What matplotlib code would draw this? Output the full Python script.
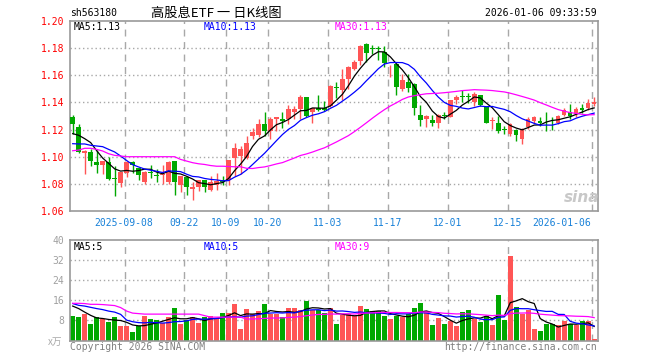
import numpy as np
import pandas as pd
import matplotlib
matplotlib.use('Agg')
import matplotlib.pyplot as plt

# sh563180 daily K
opens = [1.129, 1.122, 1.1027, 1.1035, 1.096, 1.0938, 1.096, 1.0843, 1.0807, 1.0881,
         1.096, 1.0918, 1.0812, 1.089, 1.0864, 1.0864, 1.0812, 1.0968, 1.0795, 1.0852,
         1.0763, 1.0775, 1.0825, 1.0758, 1.0795, 1.0827, 1.0827, 1.0988, 1.1005, 1.0988,
         1.1153, 1.1158, 1.124, 1.119, 1.1277, 1.1277, 1.1277, 1.1331, 1.1351, 1.1437,
         1.1326, 1.1356, 1.1356, 1.1375, 1.1513, 1.1494, 1.1575, 1.1649, 1.1706, 1.1827,
         1.1799, 1.1799, 1.1773, 1.1628, 1.1686, 1.1501, 1.155, 1.1538, 1.1311, 1.1279,
         1.1271, 1.1247, 1.1306, 1.1296, 1.142, 1.1447, 1.1447, 1.14, 1.1454, 1.1363,
         1.1262, 1.1252, 1.1205, 1.1165, 1.1198, 1.1133, 1.1222, 1.1264, 1.1264, 1.1266,
         1.1266, 1.1252, 1.1311, 1.1326, 1.1314, 1.1356, 1.1356, 1.1388]
highs = [1.131, 1.124, 1.105, 1.1054, 1.105, 1.097, 1.100, 1.0931, 1.089, 1.0965,
         1.0968, 1.092, 1.0893, 1.0936, 1.0906, 1.0936, 1.0968, 1.097, 1.0858, 1.0855,
         1.0812, 1.0827, 1.083, 1.0857, 1.0877, 1.0857, 1.0975, 1.1104, 1.1079, 1.1153,
         1.1212, 1.1277, 1.1331, 1.1289, 1.129, 1.1326, 1.138, 1.1375, 1.1455, 1.144,
         1.1358, 1.1455, 1.1413, 1.1526, 1.1553, 1.165, 1.1667, 1.1716, 1.1822, 1.184,
         1.1822, 1.1815, 1.1815, 1.1674, 1.1689, 1.1612, 1.1612, 1.154, 1.1378, 1.1311,
         1.1304, 1.1316, 1.1328, 1.1418, 1.1457, 1.1489, 1.1472, 1.1474, 1.1457, 1.1366,
         1.1289, 1.1301, 1.1227, 1.1252, 1.1203, 1.1215, 1.1289, 1.1301, 1.1289, 1.1326,
         1.1289, 1.1306, 1.1356, 1.1388, 1.1363, 1.1388, 1.1425, 1.1437]
lows = [1.117, 1.103, 1.0874, 1.0931, 1.0881, 1.0876, 1.0827, 1.0713, 1.0775, 1.0849,
        1.0881, 1.0832, 1.0802, 1.0844, 1.0812, 1.0802, 1.0802, 1.0721, 1.0738, 1.0721,
        1.0684, 1.0746, 1.0738, 1.075, 1.0758, 1.0795, 1.0795, 1.0857, 1.0869, 1.0985,
        1.1128, 1.1148, 1.1153, 1.1128, 1.119, 1.1215, 1.124, 1.1277, 1.1277, 1.1296,
        1.1245, 1.1338, 1.1338, 1.1363, 1.1432, 1.1415, 1.1501, 1.1637, 1.1674, 1.1699,
        1.1755, 1.1711, 1.1662, 1.1588, 1.1452, 1.1484, 1.1476, 1.1304, 1.123, 1.1217,
        1.123, 1.1212, 1.1279, 1.1294, 1.139, 1.1402, 1.1395, 1.1375, 1.1375, 1.1247,
        1.1207, 1.1178, 1.1165, 1.1153, 1.1116, 1.1091, 1.1202, 1.1252, 1.1227, 1.119,
        1.1197, 1.124, 1.1301, 1.1276, 1.1289, 1.1321, 1.1346, 1.1375]
closes = [1.124, 1.1035, 1.1042, 1.0968, 1.0938, 1.0968, 1.0839, 1.0839, 1.0886, 1.0963,
          1.0938, 1.0864, 1.0891, 1.0881, 1.0859, 1.0876, 1.096, 1.0812, 1.0857, 1.0775,
          1.0775, 1.0825, 1.0778, 1.0812, 1.082, 1.0812, 1.0973, 1.1067, 1.1054, 1.1099,
          1.1183, 1.124, 1.119, 1.1277, 1.129, 1.1264, 1.1351, 1.1351, 1.1437, 1.1301,
          1.1356, 1.1346, 1.1346, 1.1524, 1.1509, 1.1575, 1.1662, 1.1699, 1.1815, 1.1765,
          1.1795, 1.1795, 1.1691, 1.1632, 1.1513, 1.1568, 1.1506, 1.136, 1.1271, 1.1299,
          1.1247, 1.1304, 1.1301, 1.1415, 1.144, 1.1442, 1.1442, 1.1462, 1.138, 1.1252,
          1.1267, 1.119, 1.12, 1.124, 1.1158, 1.1202, 1.1277, 1.1289, 1.1247, 1.1262,
          1.1262, 1.1301, 1.1346, 1.1301, 1.1351, 1.1346, 1.1395, 1.1405]
# volume, in 万
volumes = [9.6, 9.2, 10.5, 6.4, 9.2, 8.5, 7.3, 9.2, 5.6, 5.6,
           3.2, 5.6, 9.6, 8.4, 8.0, 6.8, 9.2, 12.8, 6.4, 8.0,
           9.2, 6.8, 9.2, 9.9, 9.1, 10.8, 10.8, 14.5, 4.4, 12.4,
           10.4, 11.9, 14.4, 10.5, 10.5, 9.5, 12.8, 12.8, 12.0, 15.6,
           12.0, 12.3, 10.8, 12.8, 6.4, 10.0, 10.4, 9.6, 13.6, 12.4,
           11.6, 11.6, 9.6, 8.4, 9.6, 9.2, 10.4, 12.8, 14.8, 11.6,
           6.0, 8.8, 6.4, 7.7, 5.6, 11.2, 12.0, 8.5, 7.2, 9.6,
           6.0, 18.1, 8.0, 33.6, 13.2, 10.4, 12.0, 4.4, 3.6, 6.4,
           6.4, 6.0, 7.6, 6.4, 6.0, 7.6, 7.6, 0.4]

# start of the moving averages (their windows begin before the visible range)
ma5_head = [1.117, 1.1158, 1.1133, 1.1104]
ma10_head = [1.1096, 1.1094, 1.1094, 1.1084, 1.1079, 1.1074, 1.1054, 1.1035, 1.1005]
ma30_head = [1.1044, 1.1049, 1.1062, 1.1062, 1.1054, 1.1042, 1.1022, 1.101, 1.1005, 1.10,
             1.10, 1.10, 1.10, 1.10, 1.10, 1.10, 1.10, 1.10, 1.098, 1.0968,
             1.0956, 1.0948, 1.0943, 1.0935, 1.093, 1.093, 1.0928, 1.0926, 1.0926]
vma5_head = [13.7, 12.7, 11.3, 10.0]
vma10_head = [14.7, 14.0, 13.7, 13.2, 12.7, 12.3, 11.7, 11.3, 10.4]
vma30_head = [14.8, 14.8, 14.7, 14.4, 14.4, 14.3, 14.1, 13.9, 13.1, 11.7,
              10.9, 10.7, 10.5, 10.5, 10.5, 10.5, 10.5, 10.5, 10.5, 10.5,
              10.5, 10.5, 9.9, 9.3, 9.3, 9.3, 9.3, 9.3, 9.3]

date_idx = [9, 19, 26, 33, 43, 53, 63, 73, 87]
date_labels = ['2025-09-08', '09-22', '10-09', '10-20', '11-03', '11-17', '12-01', '12-15', '2026-01-06']
price_ticks = [1.06, 1.08, 1.10, 1.12, 1.14, 1.16, 1.18, 1.20]
vol_ticks = [8, 16, 24, 32, 40]

RED = '#ff5555'
GREEN = '#00a800'
GRID = '#a8a8a8'
W, H = 660, 360

plt.rcParams['font.family'] = ['DejaVu Sans Mono']


def ma(values, n, head):
    out = pd.Series(values).rolling(n).mean().to_numpy()
    out[:n - 1] = head
    return out


def ptext(xp, yp, s, **kw):
    fig.text(xp / W, 1 - yp / H, s, va='center', **kw)


fig = plt.figure(figsize=(W / 100, H / 100), dpi=100)
ax = fig.add_axes([70 / W, 1 - 211 / H, 528 / W, 190 / H])
axv = fig.add_axes([70 / W, 1 - 340.5 / H, 528 / W, 100.5 / H])

o, h, l, c = map(np.array, (opens, highs, lows, closes))
x = np.arange(len(c))
cols = [RED if cc > oo else GREEN for oo, cc in zip(o, c)]

for a in (ax, axv):
    a.set_xlim(-0.45, 87.64)
    for s in a.spines.values():
        s.set_color('#999999')
        s.set_linewidth(1.2)
    for i in date_idx:
        a.axvline(i - 0.35, color=GRID, lw=1, ls=(0, (5, 4)), zorder=0)

# price panel
ax.vlines(x, l, h, colors=cols, lw=1, zorder=2)
ax.bar(x, np.maximum(np.abs(c - o), 0.0003), bottom=np.minimum(o, c), width=0.75,
       color=cols, lw=0, zorder=3)
ax.plot(x, ma(c, 5, ma5_head), color='black', lw=0.9, zorder=4)
ax.plot(x, ma(c, 10, ma10_head), color='#0000ff', lw=0.9, zorder=4)
ax.plot(x, ma(c, 30, ma30_head), color='#ff00ff', lw=0.9, zorder=4)
ax.set_ylim(1.06, 1.20)
ax.set_yticks(price_ticks)
ax.set_yticklabels([f'{v:.2f}' for v in price_ticks])
for v in price_ticks[1:-1]:
    ax.axhline(v, color=GRID, lw=1, ls=(0, (1, 2)), zorder=0)
ax.tick_params(axis='y', length=0, pad=4, colors='red', labelsize=7)
ax.set_xticks([i - 0.45 for i in date_idx])
ax.set_xticklabels(date_labels)
ax.tick_params(axis='x', length=0, pad=5, colors='#1780d8', labelsize=7)
ax.get_xticklabels()[-1].set_ha('right')

# volume panel
axv.bar(x, volumes, width=0.8, color=cols, lw=0, zorder=2)
axv.plot(x, ma(volumes, 5, vma5_head), color='black', lw=0.9, zorder=4)
axv.plot(x, ma(volumes, 10, vma10_head), color='#0000ff', lw=0.9, zorder=4)
axv.plot(x, ma(volumes, 30, vma30_head), color='#ff00ff', lw=0.9, zorder=4)
axv.set_ylim(0, 40)
axv.set_yticks(vol_ticks)
for v in vol_ticks[:-1]:
    axv.axhline(v, color=GRID, lw=1, ls=(0, (1, 2)), zorder=0)
axv.tick_params(axis='y', length=0, pad=4, colors='#a0a0a0', labelsize=7)
axv.set_xticks([])

# texts
ptext(70, 13, 'sh563180', fontsize=7)
ptext(216, 13, '高股息ETF 一 日K线图', fontsize=9.5, ha='center',
      family=['Noto Sans CJK SC', 'DejaVu Sans'])
ptext(597, 13, '2026-01-06 09:33:59', fontsize=7, ha='right')
ptext(74, 26.5, 'MA5:1.13', fontsize=7, color='black')
ptext(204, 26.5, 'MA10:1.13', fontsize=7, color='#0000ff')
ptext(335, 26.5, 'MA30:1.13', fontsize=7, color='#ff00ff')
ptext(74, 246.5, 'MA5:5', fontsize=7, color='black')
ptext(204, 246.5, 'MA10:5', fontsize=7, color='#0000ff')
ptext(335, 246.5, 'MA30:9', fontsize=7, color='#ff00ff')
ptext(48, 342, 'x万', fontsize=7, color='#aaaaaa', style='italic',
      family=['Noto Sans CJK SC', 'DejaVu Sans'])
ptext(70, 347.5, 'Copyright 2026 SINA.COM', fontsize=7, color='#808080')
ptext(597, 347.5, 'http://finance.sina.com.cn', fontsize=7, color='#808080', ha='right')
ptext(582, 197, 'sina', fontsize=11, color='#c8c8c8', ha='center',
      style='italic', weight='bold', family=['DejaVu Sans'])

fig.savefig('out.png', dpi=100, facecolor='white')
